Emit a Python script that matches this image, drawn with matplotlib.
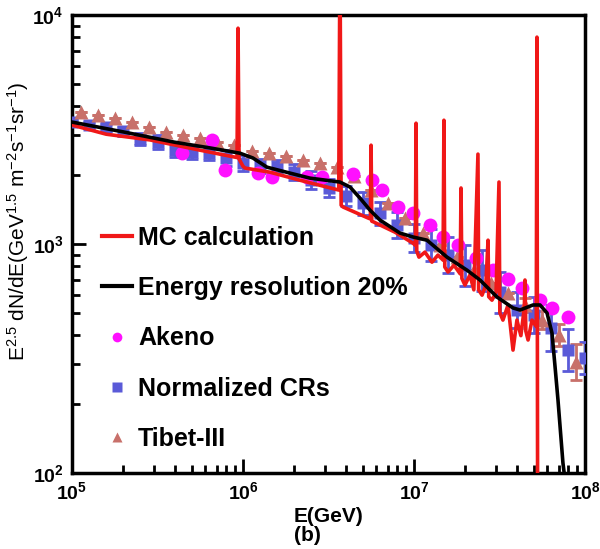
import numpy as np
import matplotlib
matplotlib.use("Agg")
import matplotlib.pyplot as plt

plt.rcParams['font.family'] = ['Liberation Sans', 'DejaVu Sans']
plt.rcParams['mathtext.fontset'] = 'custom'
plt.rcParams['mathtext.rm'] = 'Liberation Sans'
plt.rcParams['mathtext.bf'] = 'Liberation Sans:bold'
plt.rcParams['mathtext.default'] = 'regular'

# values, in log10 units (E in GeV, flux in GeV^1.5 m^-2 s^-1 sr^-1)
cr_logE = [5.0, 5.1, 5.2, 5.3, 5.4, 5.5, 5.6, 5.7, 5.8, 5.9, 6.0, 6.1, 6.2, 6.3, 6.4, 6.5,
           6.6, 6.7, 6.8, 6.9, 7.0, 7.1, 7.2, 7.3, 7.4, 7.5, 7.6, 7.7, 7.8, 7.9, 8.0]
cr_logF = [3.533, 3.520, 3.511, 3.493, 3.459, 3.445, 3.410, 3.402, 3.397, 3.376, 3.354,
           3.341, 3.336, 3.314, 3.279, 3.245, 3.210, 3.179, 3.135, 3.083, 3.026, 2.996,
           2.952, 2.908, 2.886, 2.790, 2.712, 2.690, 2.633, 2.537, 2.502]
cr_err = [0.01, 0.015, 0.015, 0.02, 0.025, 0.03, 0.03, 0.03, 0.03, 0.035, 0.035, 0.03,
          0.03, 0.035, 0.04, 0.04, 0.045, 0.05, 0.05, 0.055, 0.06, 0.07, 0.08, 0.09,
          0.09, 0.09, 0.08, 0.08, 0.1, 0.09, 0.07]

tibet_logE = [5.05, 5.15, 5.25, 5.35, 5.45, 5.55, 5.65, 5.75, 5.85, 5.95, 6.05, 6.15,
              6.25, 6.35, 6.45, 6.55, 6.65, 6.75, 6.85, 6.95, 7.05, 7.15, 7.25, 7.35,
              7.45, 7.55, 7.65, 7.75, 7.85, 7.95]
tibet_logF = [3.576, 3.563, 3.550, 3.533, 3.511, 3.489, 3.476, 3.463, 3.445, 3.432, 3.406,
              3.397, 3.384, 3.367, 3.354, 3.336, 3.297, 3.236, 3.179, 3.114, 3.048, 2.996,
              2.943, 2.886, 2.830, 2.786, 2.734, 2.668, 2.603, 2.485]
tibet_err = [0, 0, 0, 0, 0, 0, 0, 0, 0, 0, 0, 0, 0, 0, 0, 0, 0, 0, 0, 0, 0, 0,
             0, 0, 0, 0, 0.03, 0.04, 0.05, 0.08]

akeno_logE = [5.643, 5.819, 5.895, 6.088, 6.170, 6.374, 6.462, 6.643, 6.754, 6.813, 6.906,
              6.994, 7.094, 7.170, 7.257, 7.363, 7.462, 7.550, 7.632, 7.737, 7.807, 7.901]
akeno_logF = [3.397, 3.454, 3.323, 3.310, 3.293, 3.293, 3.293, 3.306, 3.279, 3.236, 3.162,
              3.135, 3.083, 3.031, 2.996, 2.939, 2.886, 2.847, 2.808, 2.755, 2.721, 2.681]

mc_logE = [5.000, 5.200, 5.456, 5.750, 5.965, 5.971, 5.977, 6.000, 6.012, 6.158, 6.333,
           6.560, 6.567, 6.574, 6.585, 6.731, 6.745, 6.749, 6.753, 6.766, 6.889, 6.994,
           7.008, 7.012, 7.016, 7.029, 7.064, 7.105, 7.140, 7.170, 7.175, 7.180, 7.199,
           7.234, 7.270, 7.275, 7.280, 7.298, 7.327, 7.350, 7.374, 7.378, 7.398, 7.420,
           7.433, 7.437, 7.456, 7.480, 7.497, 7.502, 7.520, 7.550, 7.579, 7.602, 7.625,
           7.645, 7.649, 7.654, 7.667, 7.690, 7.715, 7.719, 7.723]
mc_logF = [3.520, 3.480, 3.455, 3.410, 3.378, 3.943, 3.372, 3.340, 3.332, 3.314, 3.279,
           3.236, 4.300, 3.170, 3.162, 3.114, 3.110, 3.432, 3.100, 3.096, 3.052, 3.004,
           2.995, 3.528, 2.970, 2.943, 2.965, 2.921, 2.952, 2.930, 3.541, 2.900, 2.878,
           2.908, 2.870, 3.245, 2.850, 2.821, 2.865, 2.800, 3.393, 2.800, 2.777, 2.820,
           3.017, 2.770, 2.755, 2.790, 3.271, 2.700, 2.668, 2.734, 2.537, 2.668, 2.600,
           2.720, 2.843, 2.620, 2.581, 2.668, 2.640, 3.904, 1.800]

res_logE = [5.000, 5.300, 5.600, 5.807, 5.982, 6.058, 6.140, 6.275, 6.392, 6.567, 6.626,
            6.684, 6.743, 6.801, 6.918, 6.994, 7.076, 7.193, 7.310, 7.386, 7.485, 7.579,
            7.620, 7.696, 7.737, 7.778, 7.807, 7.825, 7.842, 7.871, 7.883]
res_logF = [3.533, 3.490, 3.445, 3.420, 3.397, 3.376, 3.336, 3.310, 3.288, 3.271, 3.249,
            3.201, 3.148, 3.105, 3.048, 3.031, 3.017, 2.943, 2.886, 2.843, 2.769, 2.721,
            2.712, 2.734, 2.734, 2.699, 2.611, 2.463, 2.319, 2.044, 1.970]

xticks = [1e5, 1e6, 1e7, 1e8]
xlabels = [r'$\mathbf{10^{5}}$', r'$\mathbf{10^{6}}$', r'$\mathbf{10^{7}}$', r'$\mathbf{10^{8}}$']
yticks = [1e2, 1e3, 1e4]
ylabels = [r'$\mathbf{10^{2}}$', r'$\mathbf{10^{3}}$', r'$\mathbf{10^{4}}$']

c_red = '#f01818'
c_blue = '#5a5ad8'
c_mag = '#ff10ff'
c_brown = '#c8706a'

fig = plt.figure(figsize=(6.0, 5.49), dpi=100)
ax = fig.add_axes([0.12, 0.1384, 0.855, 0.834])

cr_E = np.power(10.0, cr_logE)
cr_F = np.power(10.0, cr_logF)
cr_lo = cr_F - np.power(10.0, np.array(cr_logF) - np.array(cr_err))
cr_hi = np.power(10.0, np.array(cr_logF) + np.array(cr_err)) - cr_F
ax.errorbar(cr_E, cr_F, yerr=[cr_lo, cr_hi], fmt='s', color=c_blue, ms=9, mec='none',
            ecolor=c_blue, elinewidth=2, capsize=4, capthick=2, zorder=3)

tb_E = np.power(10.0, tibet_logE)
tb_F = np.power(10.0, tibet_logF)
tb_lo = tb_F - np.power(10.0, np.array(tibet_logF) - np.array(tibet_err))
tb_hi = np.power(10.0, np.array(tibet_logF) + np.array(tibet_err)) - tb_F
ax.errorbar(tb_E, tb_F, yerr=[tb_lo, tb_hi], fmt='^', color=c_brown, ms=10, mec='none',
            ecolor=c_brown, elinewidth=2, capsize=4, capthick=2, zorder=3)

ax.plot(np.power(10.0, akeno_logE), np.power(10.0, akeno_logF), 'o', color=c_mag,
        ms=10, mec='none', zorder=4)

ax.plot(np.power(10.0, mc_logE), np.power(10.0, mc_logF), '-', color=c_red, lw=2.6, zorder=5)
ax.plot(np.power(10.0, res_logE), np.power(10.0, res_logF), '-', color='black', lw=2.6, zorder=6)

ax.set_xscale('log')
ax.set_yscale('log')
ax.set_xlim(1e5, 1e8)
ax.set_ylim(1e2, 1e4)
ax.set_xticks(xticks)
ax.set_xticklabels(xlabels)
ax.set_yticks(yticks)
ax.set_yticklabels(ylabels)
ax.tick_params(which='both', direction='in', top=False, right=False, width=2)
ax.tick_params(which='major', length=10, labelsize=14, pad=6)
ax.tick_params(which='minor', length=6)
for s in ax.spines.values():
    s.set_linewidth(2.5)

ax.set_xlabel('E(GeV)\n(b)', fontsize=15, fontweight='bold', multialignment='left',
              linespacing=1.0, labelpad=3)
ax.set_ylabel(r'E$^{2.5}$ dN/dE(GeV$^{1.5}$ m$^{-2}$s$^{-1}$sr$^{-1}$)', fontsize=15)
ax.yaxis.set_label_coords(-0.08, 0.55)

# legend handles
h1, = ax.plot([], [], '-', color=c_red, lw=3)
h2, = ax.plot([], [], '-', color='black', lw=3)
h3, = ax.plot([], [], 'o', color=c_mag, ms=7, mec='none')
h4, = ax.plot([], [], 's', color=c_blue, ms=7, mec='none')
h5, = ax.plot([], [], '^', color=c_brown, ms=7, mec='none')
ax.legend([h1, h2, h3, h4, h5],
          ['MC calculation', 'Energy resolution 20%', 'Akeno', 'Normalized CRs', 'Tibet-III'],
          loc='upper left', bbox_to_anchor=(0.058, 0.54), frameon=False,
          prop={'size': 18, 'weight': 'bold'}, handlelength=1.2, handletextpad=0.25,
          labelspacing=1.05, borderpad=0, borderaxespad=0)

plt.savefig('out.png', dpi=100)
